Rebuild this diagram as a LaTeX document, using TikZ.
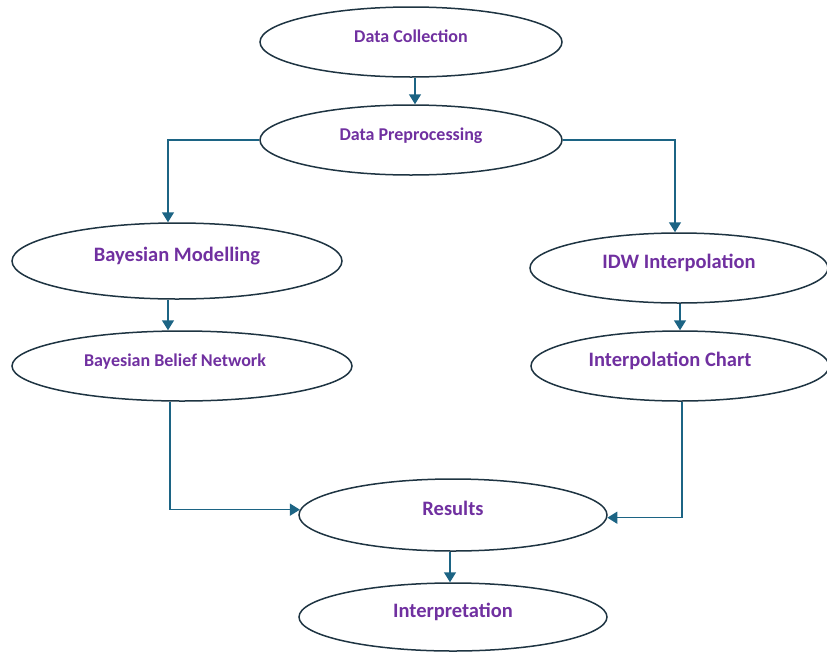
\documentclass[tikz,border=0pt]{standalone}
\usepackage{fontspec}
\setmainfont{Carlito}
\usetikzlibrary{shapes.geometric,arrows.meta}
\definecolor{arrowc}{RGB}{28,100,132}
\definecolor{edgec}{RGB}{30,52,66}
\definecolor{textc}{RGB}{112,48,160}
\begin{document}
\begin{tikzpicture}[x=1pt,y=-1pt,
  oval/.style={ellipse,draw=edgec,line width=1.5pt,inner sep=0pt,
    text height=0pt,text depth=0pt,text=textc},
  smalltxt/.style={font=\fontsize{18}{20}\selectfont\bfseries},
  bigtxt/.style={font=\fontsize{20.5}{22}\selectfont\bfseries},
  arr/.style={draw=arrowc,line width=1.5pt,-{Triangle[length=10pt,width=12pt]}}]
\useasboundingbox (0,0) rectangle (827,651);
\node[oval,smalltxt,minimum width=302pt,minimum height=70pt] (dc) at (411,42) {Data Collection};
\node[oval,smalltxt,minimum width=302pt,minimum height=70pt] (dp) at (411,140) {Data Preprocessing};
\node[oval,bigtxt,minimum width=330pt,minimum height=76pt] (bm) at (177,261) {Bayesian Modelling};
\node[oval,smalltxt,minimum width=340pt,minimum height=70pt] (bbn) at (182,366) {Bayesian Belief Network\kern14pt\mbox{}};
\node[oval,bigtxt,minimum width=298pt,minimum height=70pt] (idw) at (679,268) {IDW Interpolation};
\node[oval,bigtxt,minimum width=298pt,minimum height=70pt] (ic) at (680,366) {Interpolation Chart\kern20pt\mbox{}};
\node[oval,bigtxt,minimum width=308pt,minimum height=72pt] (res) at (453,515) {Results};
\node[oval,bigtxt,minimum width=308pt,minimum height=68pt] (int) at (453,617) {Interpretation};
\draw[arr] ([xshift=4pt]dc.south) -- ([xshift=4pt]dp.north);
\draw[arr] (dp.west) -| ([xshift=-9pt]bm.north);
\draw[arr] (dp.east) -| ([xshift=-4pt]idw.north);
\draw[arr] ([xshift=-9pt]bm.south) -- ([xshift=-14pt]bbn.north);
\draw[arr] ([xshift=1pt]idw.south) -- (ic.north);
\draw[arr] ([xshift=-12pt]bbn.south) |- (res.178);
\draw[arr] ([xshift=2pt]ic.south) |- (res.-1.3);
\draw[arr] ([xshift=-3pt]res.south) -- ([xshift=-3pt]int.north);
\end{tikzpicture}
\end{document}
